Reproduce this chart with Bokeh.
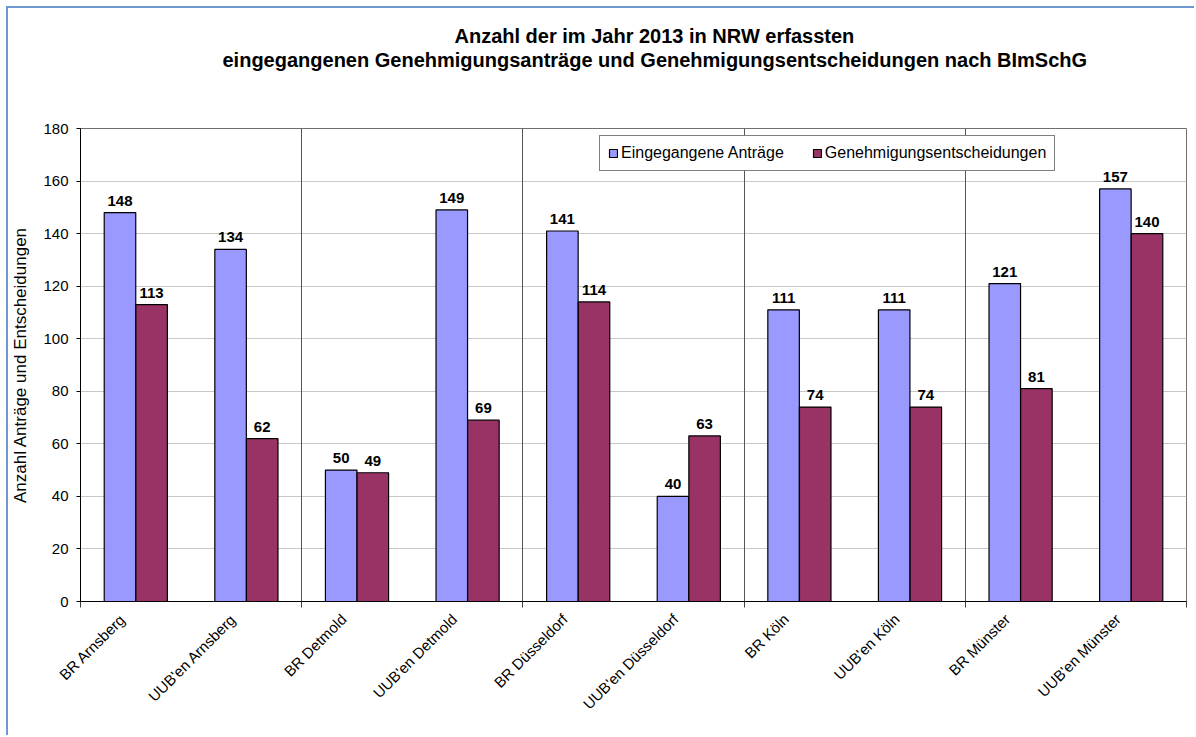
import numpy as np
from bokeh.plotting import figure
from bokeh.models import (Range1d, FixedTicker, LinearAxis, Grid, Title,
                          Legend, LegendItem, ColumnDataSource)
from bokeh.embed import file_html
from bokeh.resources import INLINE

# Data: applications received and decisions per authority, NRW 2013
categories = ["BR Arnsberg", "UUB'en Arnsberg", "BR Detmold", "UUB'en Detmold",
              "BR Düsseldorf", "UUB'en Düsseldorf", "BR Köln", "UUB'en Köln",
              "BR Münster", "UUB'en Münster"]
antraege = [148, 134, 50, 149, 141, 40, 111, 111, 121, 157]
entscheidungen = [113, 62, 49, 69, 114, 63, 74, 74, 81, 140]
series_names = ["Eingegangene Anträge", "Genehmigungsentscheidungen"]
title_lines = ["Anzahl der im Jahr 2013 in NRW erfassten",
               "eingegangenen Genehmigungsanträge und Genehmigungsentscheidungen nach BImSchG"]
per_region = 2  # BR + UUB'en per administrative region

FONT = "Liberation Sans"
BLUE = "#9999FF"
PLUM = "#993366"

W, H = 1188, 729
n = len(categories)
centers = np.arange(n) + 0.5
bar_w = 0.285
shift = 0.143

src = ColumnDataSource(dict(
    x_a=centers - shift, x_e=centers + shift,
    a=antraege, e=entscheidungen,
    a_txt=[str(v) for v in antraege], e_txt=[str(v) for v in entscheidungen],
))

p = figure(width=W, height=H, x_range=Range1d(0, n), y_range=Range1d(0, 180),
           x_axis_type=None, output_backend="svg", toolbar_location=None,
           min_border_left=70, min_border_right=10, min_border_top=120,
           min_border_bottom=136,
           styles={"margin-left": "6px", "margin-top": "6px",
                   "border-left": "2px solid #6F98D0",
                   "border-top": "2px solid #6F98D0"})
p.background_fill_color = "white"
p.border_fill_color = "white"
p.outline_line_color = "#6f6f6f"
p.outline_line_width = 1

# two-line title: a blank spacer next to the frame, then the two lines;
# left offsets put the centre of each line at x = 574 px from the frame's left edge
title_offsets = [374, 142]
p.add_layout(Title(text=" ", text_font_size="1px", standoff=55), "above")
for line, off in zip(reversed(title_lines), reversed(title_offsets)):
    p.add_layout(Title(text=line, align="left", offset=off, standoff=0,
                       text_font=FONT, text_font_size="20px", text_font_style="bold",
                       text_color="black"), "above")

# y axis
yax = p.yaxis[0]
yax.ticker = FixedTicker(ticks=list(range(0, 181, 20)))
yax.axis_label = "Anzahl Anträge und Entscheidungen"
yax.axis_label_text_font = FONT
yax.axis_label_text_font_size = "17px"
yax.axis_label_text_font_style = "normal"
yax.axis_label_text_color = "black"
yax.axis_label_standoff = 10
yax.major_label_text_font = FONT
yax.major_label_text_font_size = "15px"
yax.major_label_text_color = "black"
yax.major_label_standoff = 8
yax.major_tick_out = 4
yax.major_tick_in = 0
yax.minor_tick_line_color = None
yax.axis_line_color = "black"
yax.major_tick_line_color = "black"
p.ygrid.grid_line_color = "#c8c8c8"
p.ygrid.ticker = FixedTicker(ticks=list(range(20, 181, 20)))

# region separators
bounds = list(range(0, n + 1, per_region))
p.add_layout(Grid(dimension=0, ticker=FixedTicker(ticks=bounds[1:-1]),
                  grid_line_color="#555555", grid_line_width=1))

# x axis: ticks at region boundaries, labels near category centres
label_pos = [float(c - 0.12) for c in centers]
xtick_axis = LinearAxis(ticker=FixedTicker(ticks=bounds),
                        major_label_overrides={b: "" for b in bounds},
                        major_label_text_font_size="1px", major_label_standoff=0,
                        major_tick_out=6, major_tick_in=0,
                        major_tick_line_color="#404040", minor_tick_line_color=None,
                        axis_line_color="black")
xlab_axis = LinearAxis(ticker=FixedTicker(ticks=label_pos),
                       major_label_overrides={c: lab for c, lab in zip(label_pos, categories)},
                       major_label_orientation=np.pi / 4,
                       major_label_text_font=FONT, major_label_text_font_size="15px",
                       major_label_text_color="black", major_label_standoff=3,
                       major_tick_line_color=None, minor_tick_line_color=None,
                       axis_line_color=None)
p.add_layout(xtick_axis, "below")
p.add_layout(xlab_axis, "below")

# bars
r_a = p.vbar(x="x_a", top="a", width=bar_w, source=src, fill_color=BLUE,
             line_color="black", line_width=1.2)
r_e = p.vbar(x="x_e", top="e", width=bar_w, source=src, fill_color=PLUM,
             line_color="black", line_width=1.2)

# value labels
for xcol, tcol, ycol in [("x_a", "a_txt", "a"), ("x_e", "e_txt", "e")]:
    p.text(x=xcol, y=ycol, text=tcol, source=src, text_align="center",
           text_baseline="bottom", y_offset=-7, text_font_size="15px",
           text_font_style="bold", text_color="black", text_font={"value": FONT})

legend = Legend(items=[LegendItem(label=series_names[0], renderers=[r_a]),
                       LegendItem(label=series_names[1], renderers=[r_e])],
                orientation="horizontal", location=(519, 430),
                label_text_font=FONT, label_text_font_size="16px",
                label_text_color="black", glyph_width=10, glyph_height=10,
                label_standoff=3, spacing=28, padding=8, margin=0,
                border_line_color="black", border_line_width=1,
                background_fill_color="white", background_fill_alpha=1.0,
                label_height=14)
p.add_layout(legend, "center")

open("out.html", "w").write(file_html(p, INLINE))
